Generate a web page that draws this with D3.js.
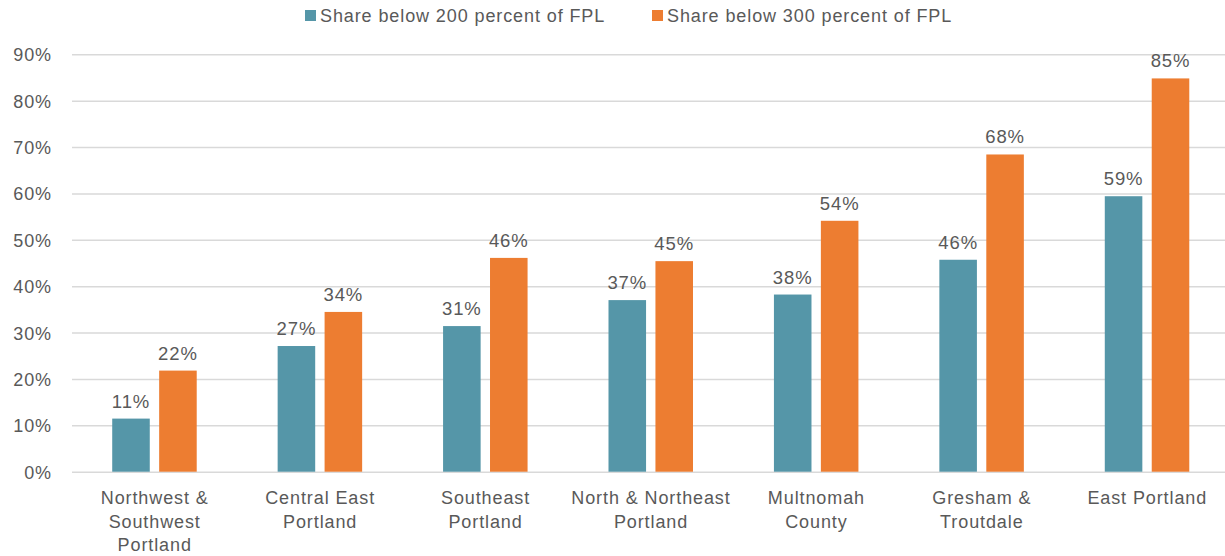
<!DOCTYPE html>
<html>
<head>
<meta charset="utf-8">
<script src="https://cdn.jsdelivr.net/npm/d3@7.9.0/dist/d3.min.js"></script>
<style>
  body { margin: 0; background: #fff; }
  svg text { font-family: "Liberation Sans", Arial, sans-serif; fill: #595959; letter-spacing: 0.9px; }
</style>
</head>
<body>
<div id="chart"></div>
<script>
// categories, one entry per wrapped line
const categories = [
  ["Northwest &", "Southwest", "Portland"],
  ["Central East", "Portland"],
  ["Southeast", "Portland"],
  ["North & Northeast", "Portland"],
  ["Multnomah", "County"],
  ["Gresham &", "Troutdale"],
  ["East Portland"]
];
const seriesNames = ["Share below 200 percent of FPL", "Share below 300 percent of FPL"];
const below200 = [11.45, 27.1, 31.4, 37.0, 38.2, 45.7, 59.4];
const below300 = [21.8, 34.45, 46.1, 45.4, 54.1, 68.4, 84.8];
const yTicks = [0, 10, 20, 30, 40, 50, 60, 70, 80, 90];
const colors = ["#5596a8", "#ed7d31"];

const width = 1225, height = 556;
const svg = d3.select("#chart").append("svg")
  .attr("width", width).attr("height", height);

const names = categories.map(c => c.join(" "));
const x0 = d3.scaleBand().domain(names).range([72, 1230]);
const x1 = d3.scaleBand().domain([0, 1]).range([-42.5, 42]).paddingInner(0.2);
const y = d3.scaleLinear().domain([0, 90]).range([471.7, 54.3]);

// gridlines
svg.append("g")
  .attr("transform", "translate(72,0)")
  .call(d3.axisLeft(y).tickValues(yTicks).tickFormat("").tickSize(-(width - 72)))
  .call(g => g.select(".domain").remove())
  .call(g => g.selectAll("line").attr("stroke", "#d9d9d9").attr("stroke-width", 1.6));

// y labels
svg.append("g")
  .attr("transform", "translate(52,0)")
  .call(d3.axisLeft(y).tickValues(yTicks).tickSize(0).tickPadding(0).tickFormat(d => d + "%"))
  .call(g => g.select(".domain").remove())
  .call(g => g.selectAll("text").attr("font-size", 18).attr("dy", "0.36em"));

// bars
const series = [below200, below300];
const groups = svg.append("g").selectAll("g")
  .data(names)
  .join("g")
  .attr("transform", d => `translate(${x0(d) + x0.bandwidth() / 2},0)`);

groups.selectAll("rect")
  .data((d, i) => series.map((s, k) => ({ k, v: s[i] })))
  .join("rect")
  .attr("x", d => x1(d.k))
  .attr("width", x1.bandwidth())
  .attr("y", d => y(d.v))
  .attr("height", d => y(0) - y(d.v))
  .attr("fill", d => colors[d.k]);

groups.selectAll("text.val")
  .data((d, i) => series.map((s, k) => ({ k, v: s[i] })))
  .join("text")
  .attr("class", "val")
  .attr("x", d => x1(d.k) + x1.bandwidth() / 2)
  .attr("y", d => y(d.v) - 11)
  .attr("text-anchor", "middle")
  .attr("font-size", 18.5)
  .text(d => Math.round(d.v) + "%");

// category labels
const xl = svg.append("g").selectAll("text")
  .data(categories)
  .join("text")
  .attr("text-anchor", "middle")
  .attr("font-size", 18)
  .attr("x", (d, i) => x0(names[i]) + x0.bandwidth() / 2)
  .attr("y", 504);
xl.selectAll("tspan")
  .data(d => d)
  .join("tspan")
  .attr("x", function () { return d3.select(this.parentNode).attr("x"); })
  .attr("dy", (d, i) => i === 0 ? 0 : 23.5)
  .text(d => d);

// legend
const legendX = [305, 652];
const legend = svg.append("g").selectAll("g")
  .data(seriesNames)
  .join("g")
  .attr("transform", (d, i) => `translate(${legendX[i]},0)`);
legend.append("rect")
  .attr("x", 0).attr("y", 10).attr("width", 11).attr("height", 11)
  .attr("fill", (d, i) => colors[i]);
legend.append("text")
  .attr("x", 15).attr("y", 22)
  .attr("font-size", 18)
  .text(d => d);
</script>
</body>
</html>
